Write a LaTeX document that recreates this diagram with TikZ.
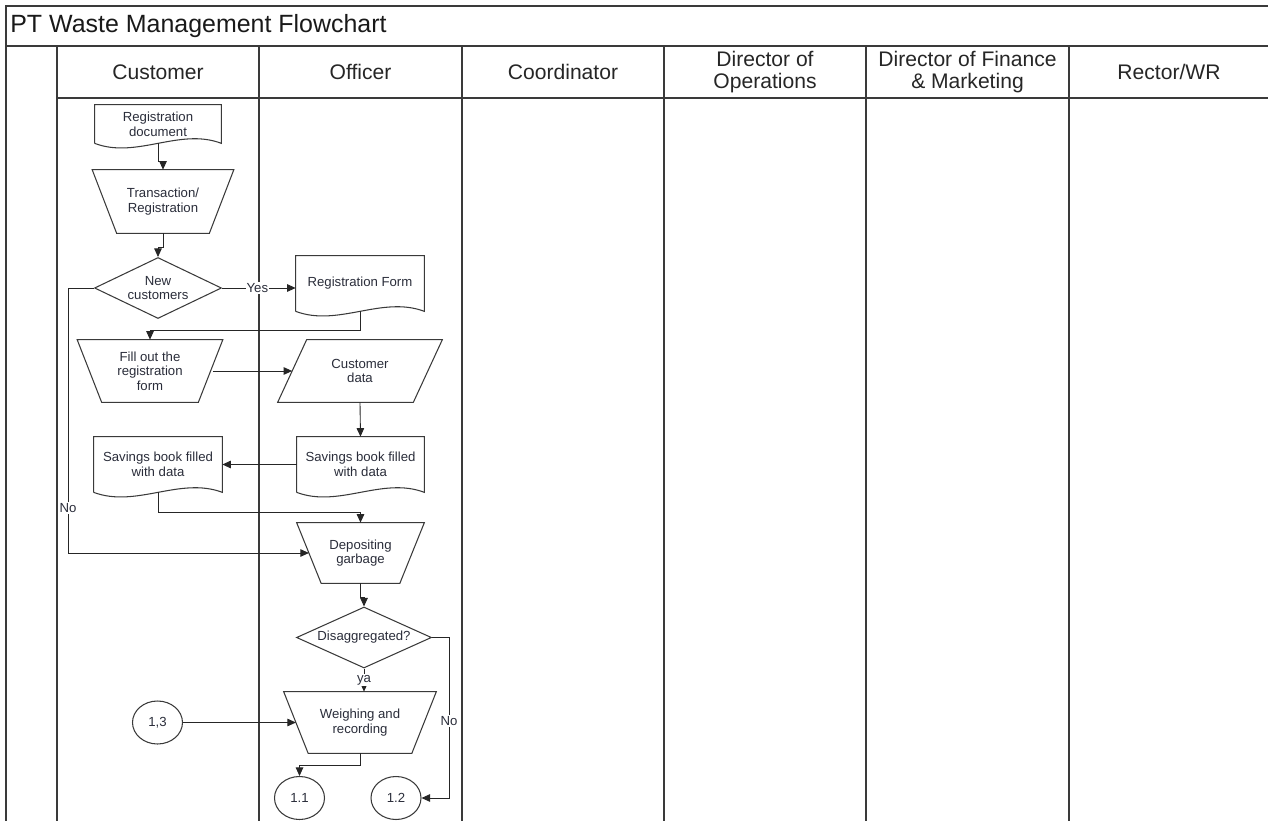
\documentclass[tikz,border=0pt]{standalone}
\usepackage{fontspec}
\setmainfont{Liberation Sans}
\usetikzlibrary{positioning,arrows.meta,calc,shapes.geometric}
\definecolor{lineGray}{HTML}{3A3A3A}
\definecolor{textDark}{HTML}{2A2D3A}
\newcommand{\nodefont}{\fontsize{7.5}{8.3}\selectfont}
% outlines drawn round plain rectangle nodes
\newcommand{\docline}[1]{%
  \draw[shapeline] (#1.south west) -- (#1.north west) -- (#1.north east) -- (#1.south east)
    .. controls ($(#1.south east)!0.33!(#1.south west)+(0,0.32cm)$)
    and ($(#1.south east)!0.67!(#1.south west)+(0,-0.32cm)$) .. (#1.south west);}
\newcommand{\manualline}[1]{%
  \draw[shapeline] (#1.north west) -- (#1.north east)
    -- ($(#1.south east)+(-0.49cm,0)$) -- ($(#1.south west)+(0.49cm,0)$) -- cycle;}
\newcommand{\dataline}[1]{%
  \draw[shapeline] ($(#1.north west)+(0.58cm,0)$) -- (#1.north east)
    -- ($(#1.south east)+(-0.58cm,0)$) -- (#1.south west) -- cycle;}
\tikzset{
  lane/.style={draw=lineGray,line width=0.9pt},
  shapeline/.style={draw=lineGray,line width=0.6pt},
  doc/.style={minimum width=2.54cm,minimum height=1.1cm,inner sep=1pt,align=center,
    font=\nodefont,text=textDark},
  manual/.style={minimum height=1.22cm,inner sep=1pt,align=center,
    font=\nodefont,text=textDark},
  datain/.style={minimum width=3.28cm,minimum height=1.24cm,inner sep=1pt,align=center,
    font=\nodefont,text=textDark},
  decide/.style={diamond,shapeline,aspect=2,inner sep=0pt,align=center,
    font=\nodefont,text=textDark},
  joint/.style={ellipse,shapeline,minimum width=1.0cm,minimum height=0.86cm,
    inner sep=0pt,font=\nodefont,text=textDark},
  head/.style={font=\fontsize{12}{12.5}\selectfont,align=center,text=black!85},
  arrow/.style={-{Triangle[length=1.7mm,width=1.5mm]},draw=black!85,line width=0.5pt},
  flowlabel/.style={font=\nodefont,text=textDark,fill=white,inner sep=0.6pt}
}

\begin{document}
\begin{tikzpicture}[x=0.02cm,y=-0.02cm]
  \useasboundingbox (0,0) rectangle (1268,821);
  % frame and swimlanes
  \draw[lane] (1268,6) -- (6,6) -- (6,821);
  \draw[lane] (6,46) -- (1268,46);
  \draw[lane] (57,98) -- (1268,98);
  \foreach \x in {57,259,462,664,866,1069}
    \draw[lane] (\x,46) -- (\x,821);

  \node[anchor=base west,inner sep=0pt,font=\fontsize{14.2}{16}\selectfont,text=black!90] (title) at (10,33) {PT Waste Management Flowchart};
  \node[head] (hcust) at (158,72) {Customer};
  \node[head] (hoff) at (360.5,72) {Officer};
  \node[head] (hcoord) at (563,72) {Coordinator};
  \node[head] (hops) at (765,72) {Director of\\Operations};
  \node[head] (hfin) at (967.5,72) {Director of Finance\\\& Marketing};
  \node[head] (hrect) at (1169,72) {Rector/WR};

  % customer lane
  \node[doc, minimum width=2.52cm, minimum height=0.76cm] (regdoc) at (158,124) {Registration\\document};
  \node[manual, minimum width=2.82cm, minimum height=1.26cm] (trans) at (163,201.5) {Transaction/\\Registration};
  \node[decide, minimum width=2.54cm, minimum height=1.22cm] (newc) at (158,288) {New\\customers};
  \node[manual, minimum width=2.9cm, minimum height=1.24cm] (fill) at (150,371) {Fill out the\\registration\\form};
  \node[doc, minimum width=2.56cm] (savC) at (158,464.5) {Savings book filled\\with data};
  \node[joint] (c13) at (157.5,722.5) {1,3};

  % officer lane
  \node[doc, minimum width=2.56cm] (regform) at (360,283.5) {Registration Form};
  \node[datain] (custdata) at (360,371) {Customer\\data};
  \node[doc] (savO) at (360.5,464.5) {Savings book filled\\with data};
  \node[manual, minimum width=2.54cm, minimum height=1.2cm] (depo) at (360.5,553) {Depositing\\garbage};
  \node[decide, minimum width=2.7cm, minimum height=1.22cm] (disagg) at (364,637.5) {Disaggregated?};
  \node[manual, minimum width=3.04cm] (weigh) at (360,722.5) {Weighing and\\recording};
  \node[joint] (c11) at (299.5,798) {1.1};
  \node[joint] (c12) at (396,798) {1.2};

  \docline{regdoc}
  \docline{regform}
  \docline{savC}
  \docline{savO}
  \manualline{trans}
  \manualline{fill}
  \manualline{depo}
  \manualline{weigh}
  \dataline{custdata}

  \draw[arrow] (regdoc.south) -- ++(0,18) -| (trans.north);
  \draw[arrow] (trans.south) -- ++(0,14) -| (newc.north);
  \draw[arrow] (newc.east) -- node[flowlabel,pos=0.48]{Yes} (newc.east -| regform.west);
  \draw[arrow] (regform.south) -- ++(0,19) -| (fill.north);
  \draw[arrow] ($(fill.east)+(-0.2cm,0)$) -- ($(custdata.west)+(0.29cm,0)$);
  \draw[arrow] (custdata.south) -- (savO.north);
  \draw[arrow] (savO.west) -- (savC.east);
  \draw[arrow] (savC.south) -- ++(0,20) -| (depo.north);
  \draw[arrow] (newc.west) -- ++(-26,0) |- node[flowlabel,pos=0.415]{No} ($(depo.west)+(0.245cm,0)$);
  \draw[arrow] (depo.south) -- ++(0,14) -| (disagg.north);
  \draw[arrow] (disagg.south) -- node[flowlabel]{ya} (disagg.south |- weigh.north);
  \draw[arrow] (disagg.east) -- ++(17,0) |- node[flowlabel,pos=0.26]{No} (c12.east);
  \draw[arrow] (c13.east) -- ($(weigh.west)+(0.245cm,0)$);
  \draw[arrow] (weigh.south) -- ++(0,12) -| (c11.north);
\end{tikzpicture}
\end{document}
